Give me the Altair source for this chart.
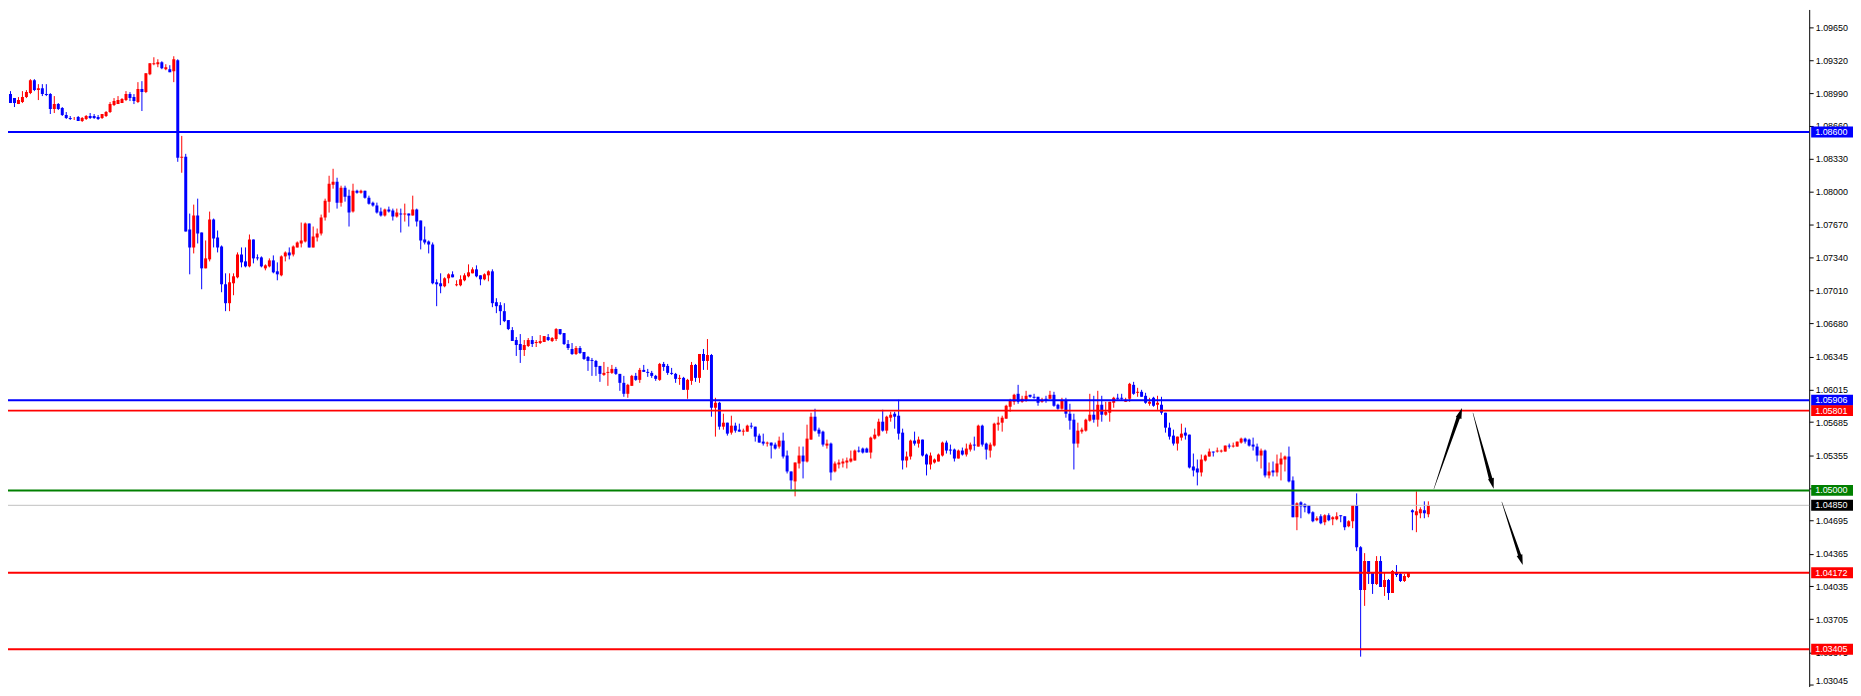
import altair as alt
import pandas as pd

# ---------------- candle data (EURUSD-like) ----------------
OPEN = [
    1.0900, 1.0895, 1.0898, 1.0894, 1.0888, 1.0890, 1.0895, 1.0899, 1.0912, 1.0902,
    1.0904, 1.0898, 1.0898, 1.0883, 1.0888, 1.0884, 1.0877, 1.0874, 1.0874, 1.0875,
    1.0871, 1.0873, 1.0876, 1.0876, 1.0875, 1.0874, 1.0876, 1.0880, 1.0887, 1.0888,
    1.0889, 1.0892, 1.0898, 1.0895, 1.0890, 1.0903, 1.0900, 1.0918, 1.0928, 1.0928,
    1.0930, 1.0923, 1.0923, 1.0921, 1.0932, 1.0834, 1.0835, 1.0762, 1.0744, 1.0776,
    1.0759, 1.0723, 1.0732, 1.0772, 1.0754, 1.0745, 1.0707, 1.0688, 1.0708, 1.0714,
    1.0737, 1.0730, 1.0725, 1.0752, 1.0734, 1.0734, 1.0723, 1.0725, 1.0731, 1.0720,
    1.0716, 1.0735, 1.0739, 1.0737, 1.0744, 1.0748, 1.0750, 1.0768, 1.0744, 1.0754,
    1.0758, 1.0774, 1.0790, 1.0807, 1.0810, 1.0789, 1.0804, 1.0796, 1.0780, 1.0801,
    1.0799, 1.0801, 1.0794, 1.0789, 1.0786, 1.0780, 1.0776, 1.0782, 1.0781, 1.0775,
    1.0778, 1.0777, 1.0778, 1.0776, 1.0782, 1.0771, 1.0752, 1.0750, 1.0747, 1.0709,
    1.0708, 1.0705, 1.0713, 1.0717, 1.0706, 1.0706, 1.0711, 1.0715, 1.0718, 1.0722,
    1.0716, 1.0712, 1.0716, 1.0720, 1.0689, 1.0686, 1.0680, 1.0671, 1.0661, 1.0651,
    1.0647, 1.0641, 1.0645, 1.0651, 1.0648, 1.0648, 1.0649, 1.0654, 1.0650, 1.0652,
    1.0662, 1.0658, 1.0647, 1.0642, 1.0637, 1.0643, 1.0639, 1.0634, 1.0631, 1.0630,
    1.0625, 1.0616, 1.0618, 1.0618, 1.0622, 1.0617, 1.0608, 1.0597, 1.0605, 1.0615,
    1.0611, 1.0621, 1.0619, 1.0618, 1.0615, 1.0611, 1.0627, 1.0625, 1.0618, 1.0617,
    1.0612, 1.0613, 1.0601, 1.0610, 1.0626, 1.0613, 1.0637, 1.0630, 1.0636, 1.0583,
    1.0588, 1.0564, 1.0568, 1.0558, 1.0565, 1.0561, 1.0559, 1.0559, 1.0565, 1.0564,
    1.0555, 1.0549, 1.0547, 1.0548, 1.0546, 1.0544, 1.0550, 1.0535, 1.0519, 1.0509,
    1.0527, 1.0535, 1.0529, 1.0551, 1.0574, 1.0561, 1.0559, 1.0545, 1.0547, 1.0519,
    1.0526, 1.0527, 1.0528, 1.0529, 1.0530, 1.0540, 1.0542, 1.0542, 1.0538, 1.0552,
    1.0555, 1.0569, 1.0560, 1.0573, 1.0577, 1.0575, 1.0558, 1.0530, 1.0534, 1.0550,
    1.0547, 1.0551, 1.0536, 1.0526, 1.0528, 1.0529, 1.0535, 1.0548, 1.0541, 1.0541,
    1.0532, 1.0540, 1.0536, 1.0541, 1.0546, 1.0544, 1.0565, 1.0547, 1.0540, 1.0545,
    1.0566, 1.0568, 1.0572, 1.0584, 1.0589, 1.0597, 1.0589, 1.0591, 1.0596, 1.0594,
    1.0594, 1.0589, 1.0592, 1.0592, 1.0596, 1.0586, 1.0582, 1.0590, 1.0577, 1.0571,
    1.0547, 1.0559, 1.0560, 1.0570, 1.0576, 1.0571, 1.0586, 1.0576, 1.0578, 1.0588,
    1.0593, 1.0593, 1.0589, 1.0592, 1.0606, 1.0598, 1.0599, 1.0595, 1.0587, 1.0593,
    1.0586, 1.0586, 1.0578, 1.0563, 1.0555, 1.0547, 1.0553, 1.0558, 1.0556, 1.0524,
    1.0522, 1.0518, 1.0530, 1.0534, 1.0539, 1.0539, 1.0539, 1.0539, 1.0545, 1.0544,
    1.0544, 1.0548, 1.0552, 1.0551, 1.0546, 1.0544, 1.0535, 1.0540, 1.0515, 1.0520,
    1.0518, 1.0526, 1.0531, 1.0534, 1.0510, 1.0473, 1.0488, 1.0486, 1.0485, 1.0478,
    1.0470, 1.0474, 1.0468, 1.0475, 1.0471, 1.0471, 1.0475, 1.0474, 1.0464, 1.0469,
    1.0485, 1.0443, 1.0400, 1.0429, 1.0417, 1.0406, 1.0429, 1.0403, 1.0410, 1.0397,
    1.0417, 1.0416, 1.0409, 1.0413, 1.0480, 1.0475, 1.0477, 1.0480, 1.0476,
]

HIGH = [
    1.0901, 1.0899, 1.0901, 1.0894, 1.0895, 1.0901, 1.0902, 1.0913, 1.0913, 1.0908,
    1.0908, 1.0908, 1.0899, 1.0896, 1.0889, 1.0885, 1.0880, 1.0876, 1.0875, 1.0876,
    1.0875, 1.0877, 1.0879, 1.0878, 1.0877, 1.0878, 1.0881, 1.0890, 1.0894, 1.0896,
    1.0894, 1.0901, 1.0900, 1.0898, 1.0910, 1.0911, 1.0919, 1.0929, 1.0935, 1.0933,
    1.0931, 1.0928, 1.0927, 1.0936, 1.0933, 1.0856, 1.0838, 1.0778, 1.0787, 1.0793,
    1.0759, 1.0751, 1.0780, 1.0773, 1.0761, 1.0746, 1.0718, 1.0718, 1.0718, 1.0739,
    1.0744, 1.0744, 1.0757, 1.0752, 1.0737, 1.0735, 1.0727, 1.0733, 1.0736, 1.0729,
    1.0736, 1.0740, 1.0744, 1.0746, 1.0750, 1.0769, 1.0769, 1.0768, 1.0765, 1.0763,
    1.0777, 1.0793, 1.0816, 1.0823, 1.0814, 1.0806, 1.0806, 1.0802, 1.0808, 1.0802,
    1.0802, 1.0801, 1.0796, 1.0790, 1.0789, 1.0784, 1.0783, 1.0785, 1.0783, 1.0783,
    1.0783, 1.0788, 1.0778, 1.0796, 1.0783, 1.0771, 1.0765, 1.0751, 1.0749, 1.0712,
    1.0718, 1.0714, 1.0718, 1.0720, 1.0711, 1.0716, 1.0718, 1.0727, 1.0724, 1.0726,
    1.0716, 1.0718, 1.0721, 1.0722, 1.0693, 1.0689, 1.0688, 1.0671, 1.0664, 1.0654,
    1.0657, 1.0651, 1.0653, 1.0655, 1.0651, 1.0656, 1.0655, 1.0657, 1.0654, 1.0663,
    1.0662, 1.0658, 1.0651, 1.0648, 1.0645, 1.0645, 1.0639, 1.0635, 1.0633, 1.0631,
    1.0625, 1.0629, 1.0624, 1.0626, 1.0624, 1.0617, 1.0615, 1.0607, 1.0616, 1.0618,
    1.0623, 1.0626, 1.0622, 1.0620, 1.0616, 1.0628, 1.0629, 1.0627, 1.0623, 1.0618,
    1.0616, 1.0614, 1.0612, 1.0629, 1.0627, 1.0637, 1.0642, 1.0652, 1.0637, 1.0593,
    1.0589, 1.0577, 1.0568, 1.0575, 1.0568, 1.0567, 1.0562, 1.0566, 1.0568, 1.0564,
    1.0557, 1.0557, 1.0549, 1.0548, 1.0548, 1.0554, 1.0558, 1.0540, 1.0519, 1.0528,
    1.0544, 1.0544, 1.0566, 1.0578, 1.0582, 1.0563, 1.0560, 1.0551, 1.0548, 1.0529,
    1.0531, 1.0532, 1.0533, 1.0540, 1.0541, 1.0544, 1.0543, 1.0543, 1.0554, 1.0562,
    1.0572, 1.0581, 1.0575, 1.0579, 1.0579, 1.0591, 1.0562, 1.0539, 1.0551, 1.0559,
    1.0554, 1.0551, 1.0537, 1.0538, 1.0532, 1.0537, 1.0549, 1.0550, 1.0546, 1.0542,
    1.0541, 1.0543, 1.0547, 1.0548, 1.0554, 1.0566, 1.0566, 1.0548, 1.0548, 1.0568,
    1.0574, 1.0575, 1.0586, 1.0592, 1.0597, 1.0606, 1.0595, 1.0600, 1.0596, 1.0597,
    1.0594, 1.0593, 1.0595, 1.0600, 1.0599, 1.0587, 1.0593, 1.0593, 1.0587, 1.0577,
    1.0568, 1.0563, 1.0572, 1.0597, 1.0595, 1.0600, 1.0595, 1.0589, 1.0589, 1.0594,
    1.0597, 1.0597, 1.0593, 1.0608, 1.0609, 1.0603, 1.0601, 1.0598, 1.0593, 1.0594,
    1.0595, 1.0594, 1.0578, 1.0568, 1.0561, 1.0554, 1.0567, 1.0563, 1.0556, 1.0537,
    1.0531, 1.0536, 1.0536, 1.0542, 1.0539, 1.0543, 1.0541, 1.0545, 1.0547, 1.0548,
    1.0549, 1.0553, 1.0553, 1.0552, 1.0553, 1.0547, 1.0542, 1.0541, 1.0528, 1.0529,
    1.0536, 1.0538, 1.0535, 1.0544, 1.0514, 1.0488, 1.0489, 1.0487, 1.0485, 1.0479,
    1.0474, 1.0476, 1.0476, 1.0477, 1.0474, 1.0478, 1.0475, 1.0474, 1.0470, 1.0485,
    1.0497, 1.0444, 1.0437, 1.0429, 1.0418, 1.0434, 1.0434, 1.0418, 1.0411, 1.0420,
    1.0425, 1.0418, 1.0416, 1.0418, 1.0481, 1.0499, 1.0483, 1.0489, 1.0489,
]

LOW = [
    1.0894, 1.0893, 1.0889, 1.0885, 1.0888, 1.0889, 1.0894, 1.0898, 1.0901, 1.0892,
    1.0896, 1.0896, 1.0878, 1.0879, 1.0882, 1.0876, 1.0873, 1.0872, 1.0872, 1.0871,
    1.0870, 1.0872, 1.0873, 1.0873, 1.0872, 1.0873, 1.0875, 1.0879, 1.0886, 1.0888,
    1.0889, 1.0891, 1.0891, 1.0888, 1.0889, 1.0881, 1.0899, 1.0917, 1.0927, 1.0925,
    1.0923, 1.0922, 1.0920, 1.0910, 1.0830, 1.0819, 1.0760, 1.0717, 1.0738, 1.0748,
    1.0702, 1.0723, 1.0730, 1.0744, 1.0739, 1.0699, 1.0680, 1.0680, 1.0696, 1.0713,
    1.0724, 1.0724, 1.0724, 1.0728, 1.0731, 1.0724, 1.0721, 1.0724, 1.0718, 1.0711,
    1.0715, 1.0730, 1.0732, 1.0735, 1.0744, 1.0744, 1.0749, 1.0744, 1.0744, 1.0750,
    1.0756, 1.0771, 1.0779, 1.0803, 1.0783, 1.0785, 1.0790, 1.0765, 1.0779, 1.0798,
    1.0798, 1.0793, 1.0787, 1.0785, 1.0778, 1.0775, 1.0775, 1.0779, 1.0771, 1.0774,
    1.0759, 1.0770, 1.0765, 1.0776, 1.0765, 1.0742, 1.0747, 1.0738, 1.0707, 1.0685,
    1.0698, 1.0704, 1.0708, 1.0714, 1.0705, 1.0705, 1.0710, 1.0714, 1.0718, 1.0714,
    1.0706, 1.0711, 1.0710, 1.0684, 1.0678, 1.0666, 1.0669, 1.0661, 1.0650, 1.0635,
    1.0628, 1.0635, 1.0644, 1.0644, 1.0644, 1.0647, 1.0649, 1.0650, 1.0649, 1.0650,
    1.0656, 1.0646, 1.0641, 1.0636, 1.0636, 1.0637, 1.0631, 1.0620, 1.0615, 1.0615,
    1.0609, 1.0615, 1.0605, 1.0617, 1.0616, 1.0600, 1.0594, 1.0593, 1.0605, 1.0610,
    1.0608, 1.0619, 1.0614, 1.0613, 1.0610, 1.0610, 1.0620, 1.0616, 1.0616, 1.0608,
    1.0606, 1.0601, 1.0592, 1.0606, 1.0609, 1.0608, 1.0621, 1.0621, 1.0574, 1.0554,
    1.0561, 1.0561, 1.0555, 1.0556, 1.0558, 1.0559, 1.0555, 1.0559, 1.0562, 1.0549,
    1.0548, 1.0545, 1.0544, 1.0532, 1.0541, 1.0542, 1.0532, 1.0517, 1.0501, 1.0494,
    1.0522, 1.0512, 1.0528, 1.0551, 1.0559, 1.0554, 1.0544, 1.0542, 1.0510, 1.0518,
    1.0522, 1.0523, 1.0522, 1.0528, 1.0530, 1.0538, 1.0537, 1.0538, 1.0532, 1.0551,
    1.0554, 1.0559, 1.0557, 1.0569, 1.0562, 1.0551, 1.0521, 1.0523, 1.0531, 1.0545,
    1.0543, 1.0534, 1.0515, 1.0521, 1.0527, 1.0529, 1.0534, 1.0537, 1.0536, 1.0529,
    1.0532, 1.0535, 1.0534, 1.0539, 1.0540, 1.0544, 1.0544, 1.0531, 1.0533, 1.0544,
    1.0560, 1.0559, 1.0572, 1.0579, 1.0586, 1.0587, 1.0588, 1.0589, 1.0593, 1.0592,
    1.0585, 1.0588, 1.0588, 1.0592, 1.0584, 1.0581, 1.0581, 1.0573, 1.0561, 1.0521,
    1.0543, 1.0557, 1.0559, 1.0569, 1.0568, 1.0564, 1.0569, 1.0575, 1.0569, 1.0583,
    1.0591, 1.0591, 1.0589, 1.0589, 1.0596, 1.0594, 1.0594, 1.0587, 1.0585, 1.0584,
    1.0581, 1.0576, 1.0558, 1.0551, 1.0545, 1.0540, 1.0550, 1.0551, 1.0522, 1.0514,
    1.0505, 1.0514, 1.0529, 1.0534, 1.0534, 1.0538, 1.0538, 1.0539, 1.0542, 1.0543,
    1.0544, 1.0547, 1.0547, 1.0544, 1.0540, 1.0529, 1.0522, 1.0513, 1.0512, 1.0514,
    1.0514, 1.0510, 1.0519, 1.0508, 1.0473, 1.0460, 1.0472, 1.0478, 1.0476, 1.0468,
    1.0469, 1.0466, 1.0465, 1.0469, 1.0465, 1.0470, 1.0468, 1.0460, 1.0463, 1.0462,
    1.0439, 1.0333, 1.0384, 1.0406, 1.0396, 1.0405, 1.0403, 1.0394, 1.0390, 1.0397,
    1.0413, 1.0408, 1.0408, 1.0412, 1.0460, 1.0458, 1.0472, 1.0472, 1.0473,
]

CLOSE = [
    1.0895, 1.0898, 1.0889, 1.0889, 1.0892, 1.0895, 1.0900, 1.0912, 1.0902, 1.0904,
    1.0898, 1.0897, 1.0883, 1.0888, 1.0883, 1.0877, 1.0874, 1.0873, 1.0874, 1.0871,
    1.0874, 1.0876, 1.0874, 1.0874, 1.0873, 1.0878, 1.0880, 1.0888, 1.0891, 1.0892,
    1.0893, 1.0898, 1.0894, 1.0891, 1.0903, 1.0900, 1.0919, 1.0929, 1.0929, 1.0930,
    1.0924, 1.0925, 1.0920, 1.0933, 1.0834, 1.0835, 1.0760, 1.0744, 1.0776, 1.0758,
    1.0723, 1.0733, 1.0772, 1.0753, 1.0744, 1.0707, 1.0688, 1.0709, 1.0715, 1.0737,
    1.0729, 1.0725, 1.0752, 1.0733, 1.0733, 1.0725, 1.0726, 1.0731, 1.0719, 1.0717,
    1.0735, 1.0739, 1.0736, 1.0745, 1.0749, 1.0751, 1.0768, 1.0744, 1.0755, 1.0758,
    1.0774, 1.0791, 1.0808, 1.0810, 1.0789, 1.0804, 1.0795, 1.0779, 1.0801, 1.0799,
    1.0801, 1.0794, 1.0788, 1.0786, 1.0779, 1.0776, 1.0782, 1.0780, 1.0775, 1.0779,
    1.0777, 1.0778, 1.0776, 1.0782, 1.0770, 1.0751, 1.0749, 1.0747, 1.0708, 1.0707,
    1.0705, 1.0713, 1.0717, 1.0714, 1.0707, 1.0712, 1.0716, 1.0719, 1.0722, 1.0715,
    1.0712, 1.0717, 1.0720, 1.0688, 1.0685, 1.0680, 1.0670, 1.0662, 1.0650, 1.0646,
    1.0641, 1.0646, 1.0651, 1.0647, 1.0649, 1.0650, 1.0655, 1.0651, 1.0653, 1.0662,
    1.0657, 1.0647, 1.0643, 1.0637, 1.0643, 1.0638, 1.0632, 1.0630, 1.0630, 1.0624,
    1.0617, 1.0618, 1.0619, 1.0622, 1.0617, 1.0608, 1.0597, 1.0606, 1.0615, 1.0611,
    1.0621, 1.0619, 1.0618, 1.0615, 1.0612, 1.0627, 1.0624, 1.0618, 1.0617, 1.0612,
    1.0613, 1.0601, 1.0611, 1.0626, 1.0613, 1.0637, 1.0630, 1.0636, 1.0583, 1.0588,
    1.0564, 1.0568, 1.0557, 1.0565, 1.0560, 1.0559, 1.0560, 1.0565, 1.0564, 1.0554,
    1.0548, 1.0547, 1.0548, 1.0545, 1.0542, 1.0550, 1.0534, 1.0519, 1.0510, 1.0528,
    1.0535, 1.0529, 1.0552, 1.0574, 1.0560, 1.0557, 1.0546, 1.0547, 1.0518, 1.0527,
    1.0528, 1.0529, 1.0530, 1.0532, 1.0540, 1.0539, 1.0538, 1.0538, 1.0553, 1.0556,
    1.0569, 1.0560, 1.0574, 1.0576, 1.0574, 1.0557, 1.0530, 1.0534, 1.0550, 1.0547,
    1.0551, 1.0535, 1.0526, 1.0535, 1.0531, 1.0536, 1.0548, 1.0540, 1.0540, 1.0532,
    1.0540, 1.0536, 1.0542, 1.0546, 1.0545, 1.0565, 1.0546, 1.0541, 1.0546, 1.0567,
    1.0568, 1.0573, 1.0585, 1.0590, 1.0596, 1.0589, 1.0592, 1.0595, 1.0594, 1.0593,
    1.0588, 1.0591, 1.0591, 1.0596, 1.0585, 1.0582, 1.0590, 1.0577, 1.0570, 1.0547,
    1.0560, 1.0561, 1.0571, 1.0576, 1.0571, 1.0586, 1.0576, 1.0579, 1.0589, 1.0593,
    1.0592, 1.0592, 1.0591, 1.0607, 1.0597, 1.0599, 1.0594, 1.0588, 1.0589, 1.0585,
    1.0588, 1.0578, 1.0563, 1.0554, 1.0547, 1.0554, 1.0557, 1.0555, 1.0523, 1.0520,
    1.0518, 1.0531, 1.0535, 1.0539, 1.0538, 1.0540, 1.0540, 1.0545, 1.0544, 1.0545,
    1.0549, 1.0552, 1.0549, 1.0545, 1.0544, 1.0535, 1.0540, 1.0515, 1.0519, 1.0518,
    1.0527, 1.0532, 1.0534, 1.0509, 1.0473, 1.0487, 1.0484, 1.0483, 1.0477, 1.0469,
    1.0472, 1.0467, 1.0475, 1.0470, 1.0473, 1.0474, 1.0474, 1.0463, 1.0469, 1.0485,
    1.0443, 1.0400, 1.0429, 1.0416, 1.0406, 1.0429, 1.0403, 1.0410, 1.0397, 1.0419,
    1.0415, 1.0409, 1.0414, 1.0418, 1.0478, 1.0479, 1.0481, 1.0477, 1.0485,
]

# ---------------- horizontal levels ----------------
LEVELS = [1.08600, 1.05906, 1.05801, 1.05000, 1.04850, 1.04172, 1.03405]
LEVEL_LABELS = ["1.08600", "1.05906", "1.05801", "1.05000", "1.04850", "1.04172", "1.03405"]

# ---------------- price axis ticks ----------------
TICKS = [1.09650, 1.09320, 1.08990, 1.08660, 1.08330, 1.08000, 1.07670, 1.07340,
         1.07010, 1.06680, 1.06345, 1.06015, 1.05685, 1.05355, 1.05025, 1.04695,
         1.04365, 1.04035, 1.03705, 1.03375, 1.03045]

# ---------------- drawn arrows (bar index, price) ----------------
ARROW_ID = ["a1", "a1", "a2", "a2", "a3", "a3"]
ARROW_BAR = [359.4, 365.6, 369.2, 373.7, 376.45, 380.9]
ARROW_PRICE = [1.05017, 1.05740, 1.05777, 1.05110, 1.04883, 1.04350]
HEAD_BAR = [366.45, 374.4, 381.7]
HEAD_PRICE = [1.05827, 1.05017, 1.04250]

# ---------------- styles ----------------
UP, DOWN = "#FF0000", "#0000FF"
LINE_COLORS = ["#0000FF", "#0000FF", "#FF0000", "#008000", "#C0C0C0", "#FF0000", "#FF0000"]
BOX_COLORS = ["#0000FF", "#0000FF", "#FF0000", "#008000", "#000000", "#FF0000", "#FF0000"]
LINE_WIDTHS = [2, 2, 2, 2, 1, 2, 2]
ARROW_WIDTHS = [0.4, 3.6, 0.4, 3.6, 0.4, 3.2]
HEAD_ANGLES = [19, 165, 162]
HEAD_SHAPE = "M0,0L0.6,2.1L-0.6,2.1Z"

W, H = 1809, 680
FONT = "Liberation Sans"

n = len(OPEN)
assert len(HIGH) == n and len(LOW) == n and len(CLOSE) == n

candles = pd.DataFrame({"bar": list(range(n)), "open": OPEN, "high": HIGH,
                        "low": LOW, "close": CLOSE})
candles["col"] = [UP if c >= o else DOWN for o, c in zip(OPEN, CLOSE)]

levels = pd.DataFrame({"level": LEVELS, "label": LEVEL_LABELS, "lc": LINE_COLORS,
                       "bc": BOX_COLORS, "lw": LINE_WIDTHS})
arrows = pd.DataFrame({"aid": ARROW_ID, "bar": ARROW_BAR, "price": ARROW_PRICE,
                       "w": ARROW_WIDTHS, "k": [0, 1, 0, 1, 0, 1]})
heads = pd.DataFrame({"bar": HEAD_BAR, "price": HEAD_PRICE, "ang": HEAD_ANGLES})

xs = alt.Scale(domain=[1.375, 453.625], nice=False, zero=False)
ys = alt.Scale(domain=[1.0303, 1.0983], nice=False, zero=False)

yaxis = alt.Axis(orient="right", values=TICKS, format=".5f", title=None, grid=False,
                 domainColor="black", domainWidth=1, tickColor="black", tickSize=4,
                 tickWidth=1, labelFont=FONT, labelFontSize=9, labelColor="black",
                 labelPadding=2,
                 labelBaseline={"expr": "datum.value < 1.031 ? 'bottom' : 'middle'"},
                 labelAlign="left",
                 labelOverlap=False, labelBound=False, labelFlush=False)

X = alt.X("bar:Q", scale=xs, axis=None)


def Y(field):
    return alt.Y(field, scale=ys, axis=yaxis, title=None)


wicks = alt.Chart(candles).mark_rule(strokeWidth=1, clip=True).encode(
    x=X, y=Y("low:Q"), y2="high:Q",
    color=alt.Color("col:N", scale=None))

bodies = alt.Chart(candles).mark_rule(strokeWidth=3, clip=True).encode(
    x=X, y=Y("open:Q"), y2="close:Q",
    color=alt.Color("col:N", scale=None))

lines = alt.Chart(levels).mark_rule().encode(
    y=Y("level:Q"),
    color=alt.Color("lc:N", scale=None),
    strokeWidth=alt.StrokeWidth("lw:Q", scale=None))

trails = alt.Chart(arrows).mark_trail(color="black").encode(
    x=X, y=Y("price:Q"),
    size=alt.Size("w:Q", scale=None, legend=None),
    detail="aid:N", order="k:Q")

heads_l = alt.Chart(heads).mark_point(shape=HEAD_SHAPE, filled=True, size=100,
                                      color="black", opacity=1).encode(
    x=X, y=Y("price:Q"),
    angle=alt.Angle("ang:Q", scale=None))

boxes = alt.Chart(levels).mark_rule(strokeWidth=11).encode(
    x=alt.value(W + 2), x2=alt.value(W + 44),
    y=Y("level:Q"),
    color=alt.Color("bc:N", scale=None))

texts = alt.Chart(levels).mark_text(align="left", baseline="middle", font=FONT,
                                    fontSize=9, color="white").encode(
    x=alt.value(W + 6), y=Y("level:Q"), text="label:N")

chart = alt.layer(wicks, bodies, lines, trails, heads_l, boxes, texts).properties(
    width=W, height=H,
    autosize=alt.AutoSizeParams(type="none"),
    padding={"left": 0, "top": 0, "right": 44, "bottom": 0},
    background="white",
).configure_view(stroke=None)

chart.save("out.html", embed_options={"renderer": "svg", "actions": False})
